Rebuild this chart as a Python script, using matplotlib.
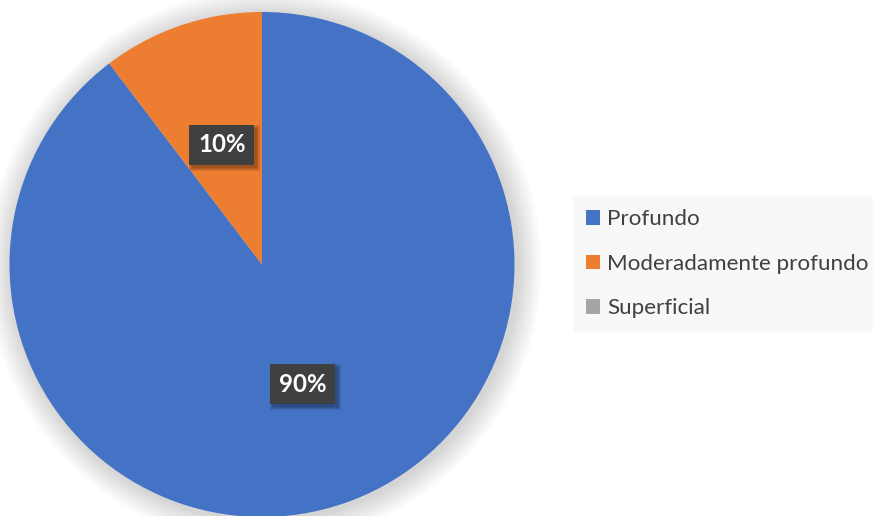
import matplotlib
matplotlib.use("Agg")
import matplotlib.pyplot as plt
from matplotlib.patches import Circle, Rectangle

categories = ["Profundo", "Moderadamente profundo", "Superficial"]
counts = [26, 3, 0]
colors = ["#4472c4", "#ed7d31", "#a5a5a5"]

plt.rcParams['font.family'] = ['Lato', 'DejaVu Sans']
plt.rcParams['hatch.color'] = '#575757'
plt.rcParams['hatch.linewidth'] = 0.5

W, H = 873, 516
fig = plt.figure(figsize=(W / 100, H / 100), dpi=100)
fig.patch.set_facecolor("white")

# pie centre (262, 264.5) px, radius 252.5 px
cx, cy, r = 262, 264.5, 252.5
ax = fig.add_axes([(cx - r) / W, (H - cy - r) / H, 2 * r / W, 2 * r / H])
ax.set_xlim(-1, 1)
ax.set_ylim(-1, 1)
ax.set_aspect("equal")
ax.axis("off")

# soft glow round the pie
for i in range(14):
    rr = 1.0 + 0.007 * (i + 1)
    ax.add_patch(Circle((0.01, -0.01), rr, color="black", alpha=0.011,
                        lw=0, clip_on=False, zorder=0))

wedges, texts, autotexts = ax.pie(
    counts, colors=colors, startangle=90, counterclock=False,
    radius=1, pctdistance=0.5,
    autopct=lambda p: f"{p:.0f}%" if p > 0 else "",
    wedgeprops=dict(linewidth=0, zorder=2),
    textprops=dict(color="white", fontsize=17.3, fontweight="bold"),
)
ax.set_xlim(-1, 1)
ax.set_ylim(-1, 1)

for t in autotexts:
    if not t.get_text():
        continue
    t.set_zorder(4)
    t.set_bbox(dict(boxstyle="square,pad=0.36", fc="#404040", ec="#404040",
                    lw=0, hatch="..."))

# blurred drop shadow under the label boxes
fig.canvas.draw()
for t in autotexts:
    if not t.get_text():
        continue
    bb = t.get_bbox_patch().get_window_extent()
    for k in range(4):
        grow = 3 - k
        fig.patches.append(Rectangle(
            (bb.x0 + 3 - grow, bb.y0 - 3 - grow), bb.width + 2 * grow, bb.height + 2 * grow,
            transform=None, fc="black", alpha=0.09, lw=0, zorder=1))
for p in fig.patches:
    p.set_figure(fig)
# shadows must sit above the pie but under the boxes
ax_sh = fig.add_axes(ax.get_position(), zorder=ax.get_zorder() + 1)
ax_sh.axis("off")
for p in list(fig.patches):
    fig.patches.remove(p)
    p.set_transform(matplotlib.transforms.IdentityTransform())
    ax_sh.add_artist(p)
ax_sh.set_xlim(-1, 1)
ax_sh.set_ylim(-1, 1)
# redraw the labels above the shadows
for t in autotexts:
    if not t.get_text():
        continue
    x, y = t.get_position()
    t.set_visible(False)
    ax_sh.text(x, y, t.get_text(), ha="center", va="center", color="white",
               fontsize=17.3, fontweight="bold", zorder=5,
               bbox=dict(boxstyle="square,pad=0.36", fc="#404040", ec="#404040",
                         lw=0, hatch="..."))

leg = fig.legend(
    wedges, categories, loc="upper left",
    bbox_to_anchor=(574 / W, 1 - 197 / H),
    fontsize=16.1, frameon=True, fancybox=False,
    facecolor="#f8f8f8", edgecolor="#f8f8f8", framealpha=1,
    handlelength=0.62, handleheight=0.62, handletextpad=0.3,
    labelspacing=1.1, borderpad=0.55, borderaxespad=0,
)
for txt in leg.get_texts():
    txt.set_color("#404040")

fig.savefig("out.png", dpi=100)
